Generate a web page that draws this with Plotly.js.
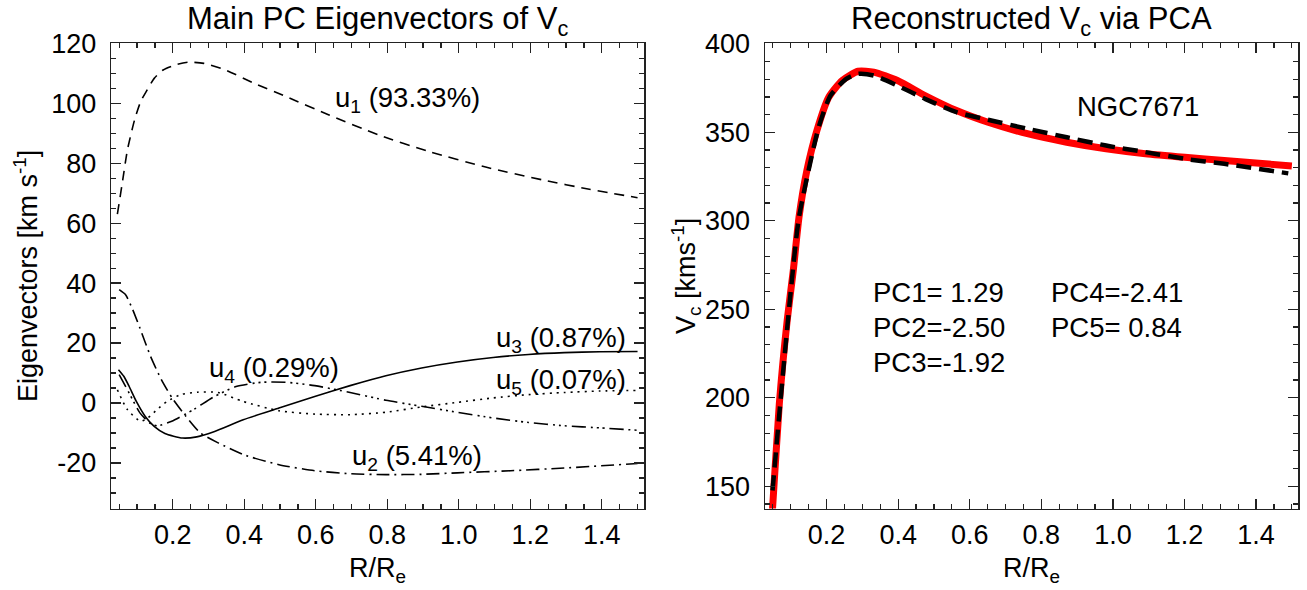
<!DOCTYPE html>
<html>
<head>
<meta charset="utf-8">
<script src="https://cdn.plot.ly/plotly-3.0.1.min.js"></script>
<style>html,body{margin:0;padding:0;background:#fff;}#chart{width:1307px;height:590px;}</style>
</head>
<body>
<div id="chart"></div>
<script>
// ---- Left panel: principal component eigenvectors ----
const xU1 = [0.045, 0.060, 0.073, 0.093, 0.110, 0.128, 0.148, 0.173, 0.213, 0.242, 0.287, 0.347, 0.427, 0.517, 0.637, 0.776, 0.916, 1.075, 1.235, 1.365, 1.500];
const u1  = [63.0, 74.4, 84.4, 94.4, 100.5, 104.4, 108.3, 111.1, 113.0, 113.7, 113.3, 111.1, 106.7, 102.2, 96.1, 89.4, 83.9, 78.7, 74.4, 71.3, 68.5];

const xU2 = [0.050, 0.068, 0.088, 0.108, 0.138, 0.168, 0.198, 0.237, 0.277, 0.327, 0.397, 0.497, 0.597, 0.696, 0.796, 0.896, 0.996, 1.145, 1.295, 1.500];
const u2  = [37.8, 36.1, 31.1, 25.0, 15.5, 7.8, 1.7, -4.5, -10.0, -13.3, -17.2, -20.6, -22.6, -23.6, -23.9, -23.8, -23.3, -22.6, -21.7, -20.2];

const xU3 = [0.048, 0.063, 0.078, 0.098, 0.123, 0.148, 0.178, 0.227, 0.267, 0.317, 0.397, 0.497, 0.597, 0.696, 0.796, 0.896, 0.996, 1.096, 1.195, 1.295, 1.395, 1.500];
const u3  = [11.1, 8.9, 5.5, 0.5, -4.5, -7.8, -10.2, -11.7, -11.3, -9.5, -5.6, -1.7, 2.2, 5.8, 9.1, 11.7, 13.7, 15.2, 16.2, 16.8, 17.1, 17.2];

const xU4 = [0.050, 0.078, 0.108, 0.138, 0.158, 0.197, 0.258, 0.317, 0.377, 0.447, 0.517, 0.597, 0.696, 0.796, 0.896, 0.996, 1.096, 1.195, 1.295, 1.395, 1.500];
const u4  = [9.5, 3.3, -3.3, -6.9, -7.6, -6.1, -2.2, 2.2, 5.5, 6.9, 6.9, 5.8, 3.5, 0.9, -1.1, -3.1, -5.0, -6.5, -7.6, -8.3, -9.1];

const xU5 = [0.045, 0.073, 0.110, 0.130, 0.156, 0.184, 0.222, 0.268, 0.327, 0.397, 0.497, 0.597, 0.696, 0.796, 0.896, 0.996, 1.096, 1.195, 1.295, 1.395, 1.500];
const u5  = [4.4, -2.2, -6.1, -5.0, -2.2, 0.5, 2.8, 3.6, 3.5, 0.5, -2.6, -3.7, -3.9, -3.1, -1.3, 0.2, 1.7, 2.8, 3.5, 4.0, 4.2];

const uLabels = ["u<sub>1</sub> (93.33%)", "u<sub>2</sub> (5.41%)", "u<sub>3</sub> (0.87%)", "u<sub>4</sub> (0.29%)", "u<sub>5</sub> (0.07%)"];

// ---- Right panel: reconstructed circular velocity ----
const xVcData = [0.045, 0.049, 0.068, 0.090, 0.107, 0.123, 0.145, 0.173, 0.206, 0.244, 0.288, 0.332, 0.398, 0.475, 0.563, 0.651, 0.761, 0.871, 0.981, 1.091, 1.201, 1.311, 1.500];
const vcData  = [128.0, 137.3, 196.6, 243.7, 271.9, 302.0, 328.4, 351.0, 369.8, 379.3, 384.5, 384.0, 379.3, 370.8, 362.3, 355.7, 349.2, 344.4, 340.7, 337.9, 335.9, 334.1, 331.0];

const xVcPCA = [0.049, 0.079, 0.103, 0.123, 0.178, 0.211, 0.255, 0.288, 0.332, 0.398, 0.475, 0.563, 0.651, 0.761, 0.871, 0.981, 1.091, 1.201, 1.311, 1.490];
const vcPCA  = [147.6, 215.4, 266.3, 302.0, 352.9, 370.8, 380.2, 383.0, 382.1, 376.4, 368.9, 361.4, 357.1, 352.0, 347.2, 342.5, 338.8, 335.0, 332.2, 326.8];

const galaxyName = "NGC7671";
const pcNames  = ["PC1", "PC2", "PC3", "PC4", "PC5"];
const pcValues = [" 1.29", "-2.50", "-1.92", "-2.41", " 0.84"];

const xTickVals = [0.2, 0.4, 0.6, 0.8, 1.0, 1.2, 1.4];
const xTickText = ["0.2", "0.4", "0.6", "0.8", "1.0", "1.2", "1.4"];
const yTickLeft = [-20, 0, 20, 40, 60, 80, 100, 120];
const yTickLeftText = ["-20", "0", "20", "40", "60", "80", "100", "120"];
const yTickRight = [150, 200, 250, 300, 350, 400];
const yTickRightText = ["150", "200", "250", "300", "350", "400"];

// ---- drawing ----
const FONT = "Liberation Sans, Arial, Helvetica, sans-serif";
const lw = 1.6;
function lineTrace(x, y, dash, xa, ya) {
  return {x: x, y: y, type: "scatter", mode: "lines", xaxis: xa, yaxis: ya,
          line: {color: "#000", width: lw, dash: dash, shape: "spline", smoothing: 0.6},
          hoverinfo: "skip", showlegend: false};
}
const traces = [
  lineTrace(xU1, u1, "10px,7px", "x", "y"),
  lineTrace(xU2, u2, "13px,5px,2px,5px", "x", "y"),
  lineTrace(xU3, u3, "solid", "x", "y"),
  lineTrace(xU4, u4, "14px,5px,2px,4px,2px,4px,2px,5px", "x", "y"),
  lineTrace(xU5, u5, "2px,5px", "x", "y"),
  {x: xVcData, y: vcData, type: "scatter", mode: "lines", xaxis: "x2", yaxis: "y2",
   line: {color: "#ff0000", width: 7, shape: "spline", smoothing: 0.6}, hoverinfo: "skip", showlegend: false},
  {x: xVcPCA, y: vcPCA, type: "scatter", mode: "lines", xaxis: "x2", yaxis: "y2",
   line: {color: "#000", width: 4.5, dash: "15px,8px", shape: "spline", smoothing: 0.6}, hoverinfo: "skip", showlegend: false}
];

const W = 1307, H = 590;
const pxX = v => v / W, pxY = v => 1 - v / H;
const tickFont = {family: FONT, size: 27, color: "#000"};
function axisCommon(extra) {
  return Object.assign({
    showgrid: false, zeroline: false, showline: true, linecolor: "#222", linewidth: 1.5,
    mirror: "ticks", ticks: "inside", ticklen: 10, tickwidth: 1.3, tickcolor: "#222",
    tickfont: tickFont, automargin: false, fixedrange: true, tickmode: "array"
  }, extra);
}
const xRange = [0.028, 1.518];
const layout = {
  width: W, height: H,
  margin: {l: 0, r: 0, t: 0, b: 0},
  paper_bgcolor: "#fff", plot_bgcolor: "#fff",
  font: {family: FONT, color: "#000"},
  xaxis: axisCommon({domain: [pxX(111.3), pxX(644)], anchor: "y", range: xRange,
    tickvals: xTickVals, ticktext: xTickText, ticklabelstandoff: 2,
    minor: {dtick: 0.05, tick0: 0, ticks: "inside", ticklen: 5, tickwidth: 1.2, tickcolor: "#222"}}),
  yaxis: axisCommon({domain: [pxY(508.5), pxY(43.3)], anchor: "x", range: [-35.2, 120],
    tickvals: yTickLeft, ticktext: yTickLeftText, ticklabelstandoff: 8,
    minor: {dtick: 5, tick0: 0, ticks: "inside", ticklen: 5, tickwidth: 1.2, tickcolor: "#222"}}),
  xaxis2: axisCommon({domain: [pxX(765), pxX(1298.3)], anchor: "y2", range: xRange,
    tickvals: xTickVals, ticktext: xTickText, ticklabelstandoff: 2,
    minor: {dtick: 0.05, tick0: 0, ticks: "inside", ticklen: 5, tickwidth: 1.2, tickcolor: "#222"}}),
  yaxis2: axisCommon({domain: [pxY(508.5), pxY(43.3)], anchor: "x2", range: [137.4, 400.3],
    tickvals: yTickRight, ticktext: yTickRightText, ticklabelstandoff: 8,
    minor: {dtick: 10, tick0: 0, ticks: "inside", ticklen: 5, tickwidth: 1.2, tickcolor: "#222"}}),
  annotations: []
};

const A = layout.annotations;
function note(text, x, y, xref, yref, size, extra) {
  A.push(Object.assign({text: text, x: x, y: y, xref: xref, yref: yref, showarrow: false,
    font: {family: FONT, size: size, color: "#000"}, xanchor: "center", yanchor: "middle"}, extra || {}));
}
// titles
note("Main PC Eigenvectors of V<sub>c</sub>", pxX(377.6), pxY(21), "paper", "paper", 31);
note("Reconstructed V<sub>c</sub> via PCA", pxX(1031.6), pxY(21), "paper", "paper", 31);
// axis titles
note("R/R<sub>e</sub>", pxX(377.6), pxY(570), "paper", "paper", 27);
note("R/R<sub>e</sub>", pxX(1031.6), pxY(570), "paper", "paper", 27);
note("Eigenvectors [km s<sup>-1</sup>]", pxX(26), pxY(276), "paper", "paper", 27, {textangle: -90});
note("V<sub>c</sub> [kms<sup>-1</sup>]", pxX(686), pxY(276), "paper", "paper", 27, {textangle: -90});
// curve labels
note(uLabels[0], 0.856, 101.4, "x", "y", 27.5);
note(uLabels[1], 0.884, -18.2, "x", "y", 27.5);
note(uLabels[2], 1.286, 21.1, "x", "y", 27.5);
note(uLabels[3], 0.484, 11.1, "x", "y", 27.5);
note(uLabels[4], 1.286, 7.1, "x", "y", 27.5);
// right panel texts
note(galaxyName, 1.07, 364.6, "x2", "y2", 27.5);
const pcX = [0.324, 0.324, 0.324, 0.821, 0.821];
const pcY = [259.5, 239.7, 219.9, 259.5, 239.7];
for (let i = 0; i < pcNames.length; i++) {
  note(pcNames[i] + "=" + pcValues[i], pcX[i], pcY[i], "x2", "y2", 27.5, {xanchor: "left"});
}

Plotly.newPlot("chart", traces, layout, {staticPlot: true, displayModeBar: false});
</script>
</body>
</html>
